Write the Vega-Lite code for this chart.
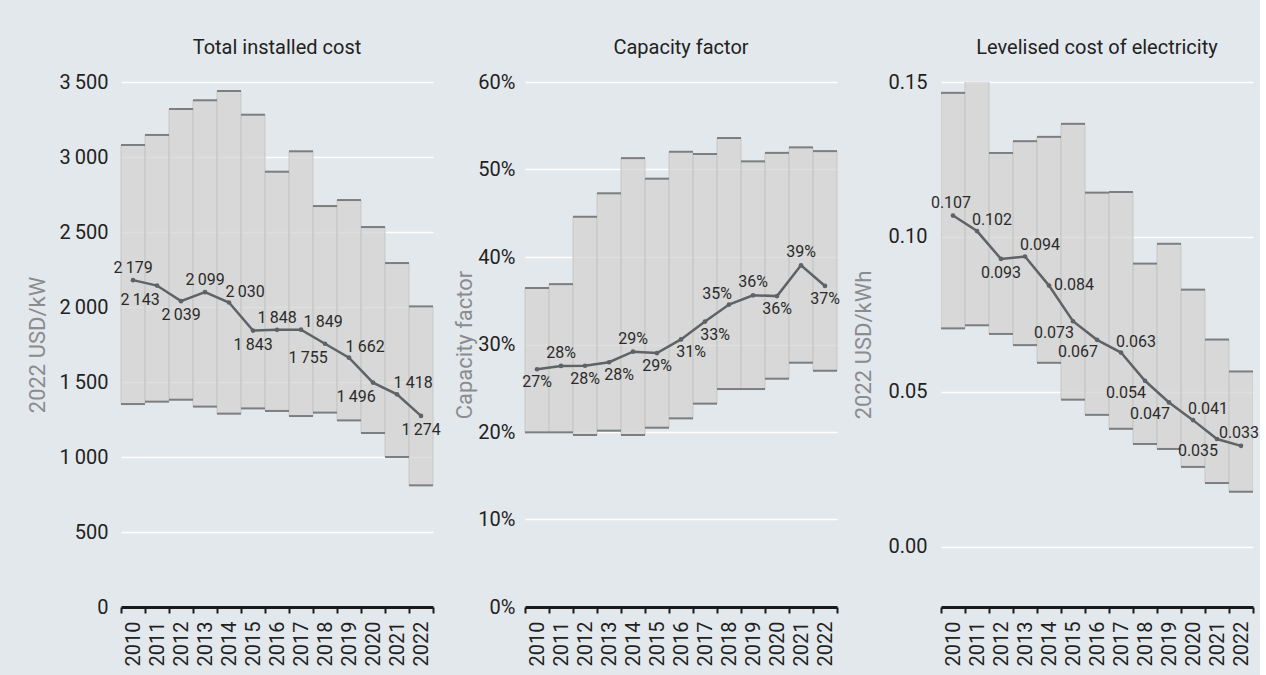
{
  "$schema": "https://vega.github.io/schema/vega-lite/v6.json",
  "background": "#e3e8ec",
  "padding": {"left": 26, "top": 38, "right": 0, "bottom": 30},
  "spacing": 12,
  "datasets": {
    "tic": [
      {"year": 2010, "low": 1353, "high": 3080, "avg": 2179},
      {"year": 2011, "low": 1369, "high": 3147, "avg": 2143},
      {"year": 2012, "low": 1382, "high": 3320, "avg": 2039},
      {"year": 2013, "low": 1336, "high": 3378, "avg": 2099},
      {"year": 2014, "low": 1289, "high": 3440, "avg": 2030},
      {"year": 2015, "low": 1324, "high": 3282, "avg": 1843},
      {"year": 2016, "low": 1307, "high": 2902, "avg": 1848},
      {"year": 2017, "low": 1273, "high": 3038, "avg": 1849},
      {"year": 2018, "low": 1296, "high": 2673, "avg": 1755},
      {"year": 2019, "low": 1244, "high": 2713, "avg": 1662},
      {"year": 2020, "low": 1160, "high": 2533, "avg": 1496},
      {"year": 2021, "low": 1000, "high": 2293, "avg": 1418},
      {"year": 2022, "low": 811, "high": 2004, "avg": 1274}
    ],
    "cf": [
      {"year": 2010, "low": 0.1996, "high": 0.3646, "avg": 0.2717},
      {"year": 2011, "low": 0.1996, "high": 0.369, "avg": 0.2755},
      {"year": 2012, "low": 0.1966, "high": 0.446, "avg": 0.2757},
      {"year": 2013, "low": 0.2015, "high": 0.4728, "avg": 0.2797},
      {"year": 2014, "low": 0.1966, "high": 0.513, "avg": 0.2918},
      {"year": 2015, "low": 0.2049, "high": 0.4895, "avg": 0.2902},
      {"year": 2016, "low": 0.2156, "high": 0.5203, "avg": 0.3058},
      {"year": 2017, "low": 0.2324, "high": 0.5177, "avg": 0.3262},
      {"year": 2018, "low": 0.2491, "high": 0.536, "avg": 0.3456},
      {"year": 2019, "low": 0.2491, "high": 0.5093, "avg": 0.3562},
      {"year": 2020, "low": 0.2609, "high": 0.519, "avg": 0.3553},
      {"year": 2021, "low": 0.2792, "high": 0.5253, "avg": 0.3905},
      {"year": 2022, "low": 0.270, "high": 0.521, "avg": 0.3669}
    ],
    "lcoe": [
      {"year": 2010, "low": 0.0705, "high": 0.1465, "avg": 0.1069},
      {"year": 2011, "low": 0.0715, "high": 0.153, "avg": 0.1019},
      {"year": 2012, "low": 0.0687, "high": 0.1271, "avg": 0.0929},
      {"year": 2013, "low": 0.0651, "high": 0.1309, "avg": 0.0937},
      {"year": 2014, "low": 0.0594, "high": 0.1323, "avg": 0.0843},
      {"year": 2015, "low": 0.0475, "high": 0.1365, "avg": 0.0728},
      {"year": 2016, "low": 0.0426, "high": 0.1143, "avg": 0.0668},
      {"year": 2017, "low": 0.0381, "high": 0.1145, "avg": 0.0627},
      {"year": 2018, "low": 0.0332, "high": 0.0914, "avg": 0.0536},
      {"year": 2019, "low": 0.0316, "high": 0.0978, "avg": 0.0466},
      {"year": 2020, "low": 0.0258, "high": 0.083, "avg": 0.0409},
      {"year": 2021, "low": 0.0206, "high": 0.0669, "avg": 0.0348},
      {"year": 2022, "low": 0.0178, "high": 0.0566, "avg": 0.0326}
    ]
  },
  "hconcat": [
    {
      "width": 312,
      "height": 525,
      "data": {"name": "tic"},
      "title": {"text": "Total installed cost"},
      "encoding": {
        "x": {"field": "year", "type": "ordinal", "title": null, "scale": {"paddingInner": 0, "paddingOuter": 0}}
      },
      "layer": [
        {
          "mark": {"type": "bar", "fill": "#d3d3d0", "fillOpacity": 0.75, "stroke": "#c6c7c6", "strokeWidth": 1},
          "encoding": {
            "y": {"field": "low", "type": "quantitative", "scale": {"domain": [0, 3500], "nice": false},
                  "axis": {"title": "2022 USD/kW", "values": [0, 500, 1000, 1500, 2000, 2500, 3000, 3500], "format": ",d", "labelPadding": 13, "titlePadding": 9}},
            "y2": {"field": "high"}
          }
        },
        {"mark": {"type": "tick", "color": "#7c7f82", "thickness": 2, "size": 24, "opacity": 1}, "encoding": {"y": {"field": "high", "type": "quantitative"}}},
        {"mark": {"type": "tick", "color": "#7c7f82", "thickness": 2, "size": 24, "opacity": 1}, "encoding": {"y": {"field": "low", "type": "quantitative"}}},
        {"mark": {"type": "line", "color": "#5f6266", "strokeWidth": 2.5}, "encoding": {"y": {"field": "avg", "type": "quantitative"}}},
        {"mark": {"type": "point", "filled": true, "color": "#5f6266", "size": 22, "opacity": 1}, "encoding": {"y": {"field": "avg", "type": "quantitative"}}},
        {"transform": [{"filter": {"field": "year", "oneOf": [2010, 2013, 2016]}}],
         "mark": {"type": "text", "dy": -12},
         "encoding": {"y": {"field": "avg", "type": "quantitative"}, "text": {"field": "avg", "type": "quantitative", "format": ",d"}}},
        {"transform": [{"filter": {"field": "year", "oneOf": [2012, 2015, 2022]}}],
         "mark": {"type": "text", "dy": 14},
         "encoding": {"y": {"field": "avg", "type": "quantitative"}, "text": {"field": "avg", "type": "quantitative", "format": ",d"}}},
        {"transform": [{"filter": {"field": "year", "oneOf": [2011, 2018, 2020]}}],
         "mark": {"type": "text", "dx": -17, "dy": 14},
         "encoding": {"y": {"field": "avg", "type": "quantitative"}, "text": {"field": "avg", "type": "quantitative", "format": ",d"}}},
        {"transform": [{"filter": {"field": "year", "oneOf": [2014, 2019, 2021]}}],
         "mark": {"type": "text", "dx": 16, "dy": -11},
         "encoding": {"y": {"field": "avg", "type": "quantitative"}, "text": {"field": "avg", "type": "quantitative", "format": ",d"}}},
        {"transform": [{"filter": {"field": "year", "oneOf": [2017]}}],
         "mark": {"type": "text", "dx": 22, "dy": -8},
         "encoding": {"y": {"field": "avg", "type": "quantitative"}, "text": {"field": "avg", "type": "quantitative", "format": ",d"}}}
      ]
    },
    {
      "width": 312,
      "height": 525,
      "data": {"name": "cf"},
      "title": {"text": "Capacity factor"},
      "encoding": {
        "x": {"field": "year", "type": "ordinal", "title": null, "scale": {"paddingInner": 0, "paddingOuter": 0}}
      },
      "layer": [
        {
          "mark": {"type": "bar", "fill": "#d3d3d0", "fillOpacity": 0.75, "stroke": "#c6c7c6", "strokeWidth": 1},
          "encoding": {
            "y": {"field": "low", "type": "quantitative", "scale": {"domain": [0, 0.6], "nice": false},
                  "axis": {"title": "Capacity factor", "values": [0, 0.1, 0.2, 0.3, 0.4, 0.5, 0.6], "format": ".0%", "labelPadding": 10, "titlePadding": 1}},
            "y2": {"field": "high"}
          }
        },
        {"mark": {"type": "tick", "color": "#7c7f82", "thickness": 2, "size": 24, "opacity": 1}, "encoding": {"y": {"field": "high", "type": "quantitative"}}},
        {"mark": {"type": "tick", "color": "#7c7f82", "thickness": 2, "size": 24, "opacity": 1}, "encoding": {"y": {"field": "low", "type": "quantitative"}}},
        {"mark": {"type": "line", "color": "#5f6266", "strokeWidth": 2.5}, "encoding": {"y": {"field": "avg", "type": "quantitative"}}},
        {"mark": {"type": "point", "filled": true, "color": "#5f6266", "size": 22, "opacity": 1}, "encoding": {"y": {"field": "avg", "type": "quantitative"}}},
        {"transform": [{"filter": {"field": "year", "oneOf": [2011, 2014, 2019, 2021]}}],
         "mark": {"type": "text", "dy": -13},
         "encoding": {"y": {"field": "avg", "type": "quantitative"}, "text": {"field": "avg", "type": "quantitative", "format": ".0%"}}},
        {"transform": [{"filter": {"field": "year", "oneOf": [2010, 2012, 2015, 2020, 2022]}}],
         "mark": {"type": "text", "dy": 13},
         "encoding": {"y": {"field": "avg", "type": "quantitative"}, "text": {"field": "avg", "type": "quantitative", "format": ".0%"}}},
        {"transform": [{"filter": {"field": "year", "oneOf": [2013, 2016, 2017]}}],
         "mark": {"type": "text", "dx": 10, "dy": 13},
         "encoding": {"y": {"field": "avg", "type": "quantitative"}, "text": {"field": "avg", "type": "quantitative", "format": ".0%"}}},
        {"transform": [{"filter": {"field": "year", "oneOf": [2018]}}],
         "mark": {"type": "text", "dx": -12, "dy": -11},
         "encoding": {"y": {"field": "avg", "type": "quantitative"}, "text": {"field": "avg", "type": "quantitative", "format": ".0%"}}}
      ]
    },
    {
      "width": 312,
      "height": 525,
      "data": {"name": "lcoe"},
      "title": {"text": "Levelised cost of electricity"},
      "encoding": {
        "x": {"field": "year", "type": "ordinal", "title": null, "scale": {"paddingInner": 0, "paddingOuter": 0}}
      },
      "layer": [
        {
          "mark": {"type": "bar", "fill": "#d3d3d0", "fillOpacity": 0.75, "stroke": "#c6c7c6", "strokeWidth": 1, "clip": true},
          "encoding": {
            "y": {"field": "low", "type": "quantitative", "scale": {"domain": [-0.0194, 0.15], "nice": false, "zero": false},
                  "axis": {"title": "2022 USD/kWh", "values": [0, 0.05, 0.1, 0.15], "format": ".2f", "labelPadding": 14, "titlePadding": 13}},
            "y2": {"field": "high"}
          }
        },
        {"mark": {"type": "tick", "color": "#7c7f82", "thickness": 2, "size": 24, "opacity": 1, "clip": true}, "encoding": {"y": {"field": "high", "type": "quantitative"}}},
        {"mark": {"type": "tick", "color": "#7c7f82", "thickness": 2, "size": 24, "opacity": 1}, "encoding": {"y": {"field": "low", "type": "quantitative"}}},
        {"mark": {"type": "line", "color": "#5f6266", "strokeWidth": 2.5}, "encoding": {"y": {"field": "avg", "type": "quantitative"}}},
        {"mark": {"type": "point", "filled": true, "color": "#5f6266", "size": 22, "opacity": 1}, "encoding": {"y": {"field": "avg", "type": "quantitative"}}},
        {"transform": [{"filter": {"field": "year", "oneOf": [2010, 2022]}}],
         "mark": {"type": "text", "dx": -2, "dy": -13},
         "encoding": {"y": {"field": "avg", "type": "quantitative"}, "text": {"field": "avg", "type": "quantitative", "format": ".3f"}}},
        {"transform": [{"filter": {"field": "year", "oneOf": [2011, 2013, 2017, 2020]}}],
         "mark": {"type": "text", "dx": 15, "dy": -11},
         "encoding": {"y": {"field": "avg", "type": "quantitative"}, "text": {"field": "avg", "type": "quantitative", "format": ".3f"}}},
        {"transform": [{"filter": {"field": "year", "oneOf": [2014]}}],
         "mark": {"type": "text", "dx": 25, "dy": -1},
         "encoding": {"y": {"field": "avg", "type": "quantitative"}, "text": {"field": "avg", "type": "quantitative", "format": ".3f"}}},
        {"transform": [{"filter": {"field": "year", "oneOf": [2012]}}],
         "mark": {"type": "text", "dy": 14},
         "encoding": {"y": {"field": "avg", "type": "quantitative"}, "text": {"field": "avg", "type": "quantitative", "format": ".3f"}}},
        {"transform": [{"filter": {"field": "year", "oneOf": [2015, 2016, 2018, 2019, 2021]}}],
         "mark": {"type": "text", "dx": -19, "dy": 12},
         "encoding": {"y": {"field": "avg", "type": "quantitative"}, "text": {"field": "avg", "type": "quantitative", "format": ".3f"}}}
      ]
    }
  ],
  "config": {
    "locale": {"number": {"decimal": ".", "thousands": "\u2009", "grouping": [3], "currency": ["", ""]}},
    "font": "Roboto",
    "view": {"stroke": null},
    "title": {"fontSize": 20, "fontWeight": "normal", "color": "#222222", "anchor": "middle", "offset": 14, "font": "Roboto"},
    "text": {"fontSize": 16, "color": "#2b2b2b", "font": "Roboto"},
    "axisX": {
      "labelAngle": 270, "labelFontSize": 20, "labelColor": "#222222", "labelPadding": 8,
      "domainColor": "#1a1a1a", "domainWidth": 3, "tickColor": "#1a1a1a", "tickWidth": 2, "tickSize": 6,
      "tickBand": "extent", "grid": false, "title": null
    },
    "axisY": {
      "domain": false, "ticks": false, "grid": true, "gridColor": "#ffffff", "gridWidth": 1.5,
      "labelFontSize": 20, "labelColor": "#222222", "titleFontSize": 22, "titleFontWeight": "normal", "titleColor": "#8a8c8f"
    }
  }
}
